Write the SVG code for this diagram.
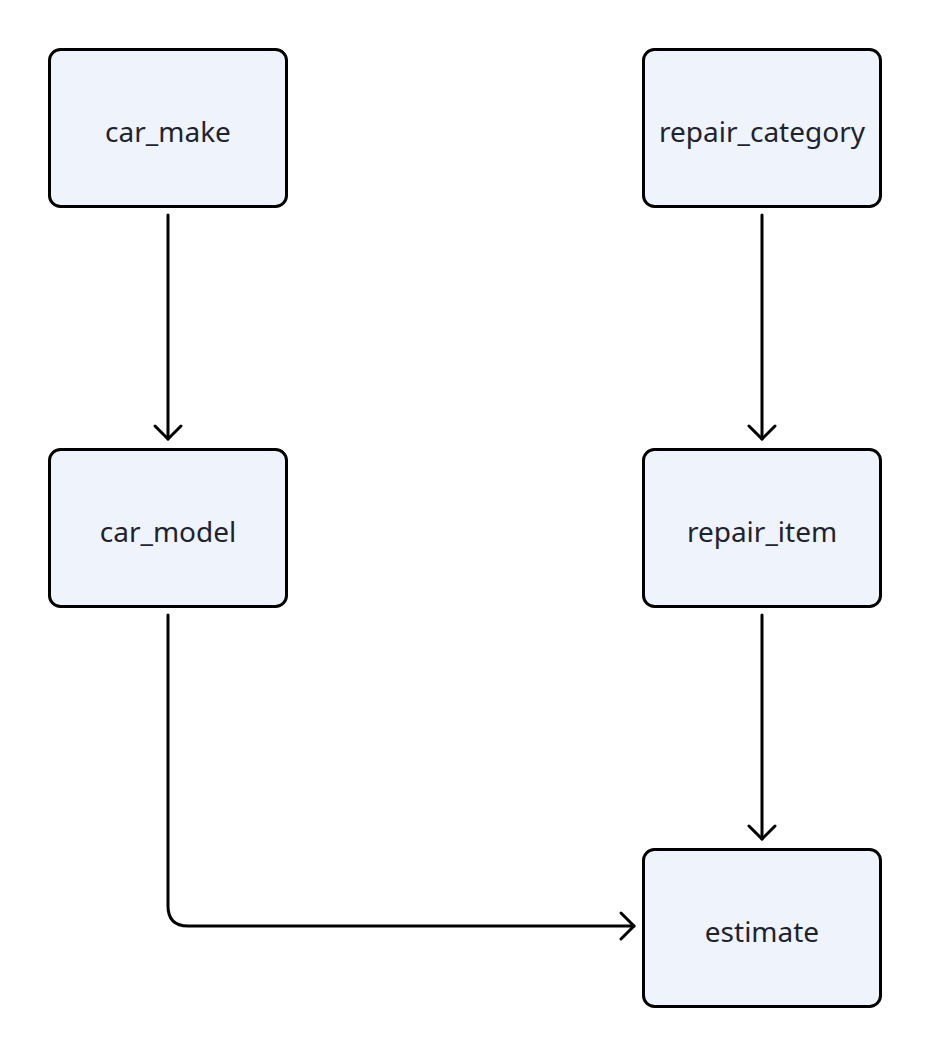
<svg xmlns="http://www.w3.org/2000/svg" width="932" height="1056" viewBox="0 0 932 1056">
<style>
.node rect{fill:#eff3fc;stroke:#000;stroke-width:3}
.node text{font-family:"Noto Sans","Open Sans",sans-serif;font-size:28px;fill:#1e2330;text-anchor:middle;dominant-baseline:central}
.edge{fill:none;stroke:#000;stroke-width:3;stroke-linecap:round;stroke-linejoin:round}
</style>
<defs>
<marker id="arr" viewBox="-16 -16 20 32" markerWidth="20" markerHeight="32" refX="0" refY="0" orient="auto" markerUnits="userSpaceOnUse">
<path d="M-13,-13 L0,0 L-13,13" fill="none" stroke="#000" stroke-width="3" stroke-linecap="round" stroke-linejoin="round"/>
</marker>
</defs>
<rect width="932" height="1056" fill="#fff"/>
<g id="connectors">
<path class="edge" d="M168,215 V439" marker-end="url(#arr)"/>
<path class="edge" d="M762,215 V439" marker-end="url(#arr)"/>
<path class="edge" d="M762,615 V839" marker-end="url(#arr)"/>
<path class="edge" d="M168,615 V906 Q168,926 188,926 H634" marker-end="url(#arr)"/>
</g>
<g id="car_make" class="node"><rect x="49.5" y="49.5" width="237" height="157" rx="11"/><text x="168" y="131">car_make</text></g>
<g id="repair_category" class="node"><rect x="643.5" y="49.5" width="237" height="157" rx="11"/><text x="762" y="131">repair_category</text></g>
<g id="car_model" class="node"><rect x="49.5" y="449.5" width="237" height="157" rx="11"/><text x="168" y="531">car_model</text></g>
<g id="repair_item" class="node"><rect x="643.5" y="449.5" width="237" height="157" rx="11"/><text x="762" y="531">repair_item</text></g>
<g id="estimate" class="node"><rect x="643.5" y="849.5" width="237" height="157" rx="11"/><text x="762" y="931">estimate</text></g>
</svg>
